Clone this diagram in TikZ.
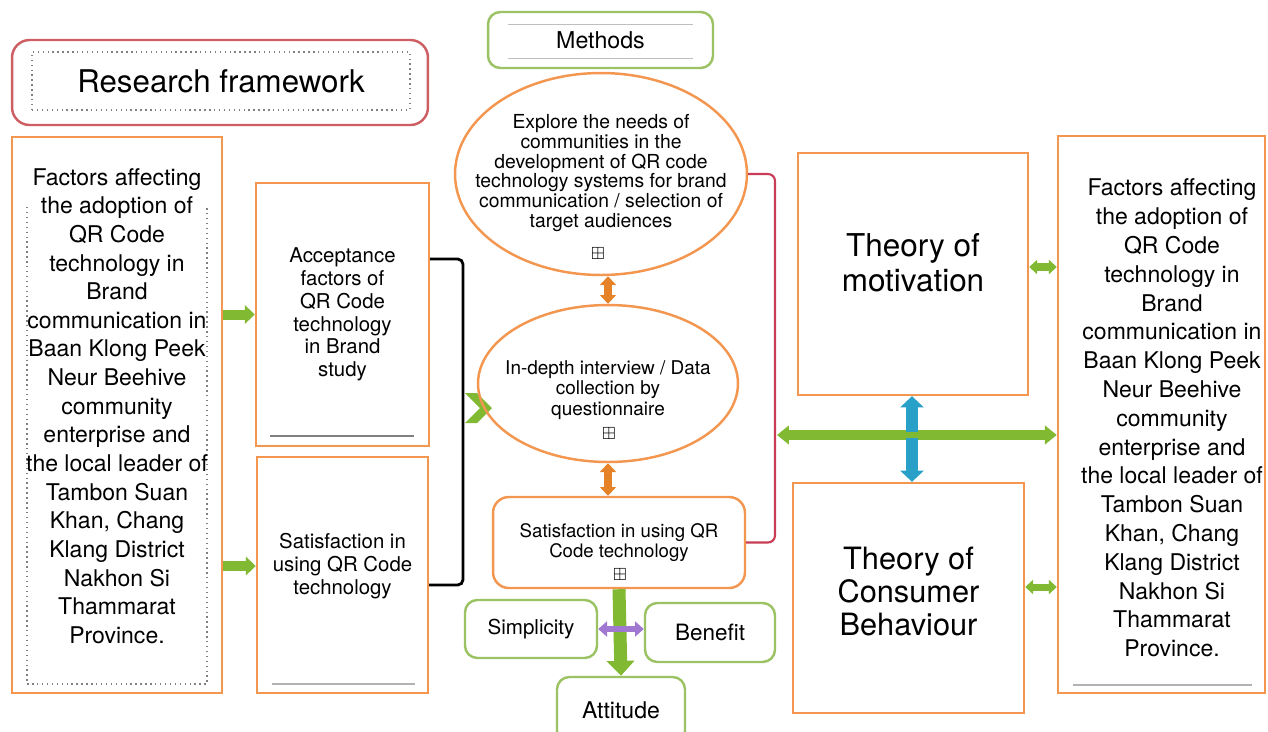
\documentclass[tikz,border=0pt]{standalone}
\usepackage{fontspec}
\setmainfont{TeX Gyre Heros}
\usepackage{amssymb}
\usetikzlibrary{arrows.meta,shapes.geometric}

\definecolor{orangeline}{RGB}{243,150,80}
\definecolor{redbox}{RGB}{205,95,100}
\definecolor{redline}{RGB}{200,60,85}
\definecolor{greenbox}{RGB}{155,195,100}
\definecolor{greenarrow}{RGB}{130,185,50}
\definecolor{orangearrow}{RGB}{230,130,40}
\definecolor{bluearrow}{RGB}{40,160,200}
\definecolor{purplearrow}{RGB}{160,120,210}

\newcommand{\fs}[2]{\fontsize{#1}{#2}\selectfont}

\begin{document}
\begin{tikzpicture}[x=0.02cm,y=-0.02cm,
    orbox/.style={draw=orangeline, line width=1.4pt, inner sep=0pt, align=center},
    grbox/.style={draw=greenbox, line width=1.4pt, rounded corners=7pt, inner sep=0pt, align=center},
    ellbox/.style={ellipse, draw=orangeline, line width=1.4pt, inner sep=0pt},
    txt/.style={inner sep=0pt, align=center},
    icon/.style={inner sep=0pt, font=\fs{10}{10}},
    garrow/.style={draw=greenarrow, line width=5.7pt, -{Triangle[width=10.5pt,length=5.7pt]}},
    gdouble/.style={draw=greenarrow, line width=4pt, {Triangle[width=8pt,length=4.5pt]}-{Triangle[width=8pt,length=4.5pt]}},
    glong/.style={draw=greenarrow, line width=5.7pt, {Triangle[width=10.5pt,length=6.8pt]}-{Triangle[width=10.5pt,length=6.8pt]}},
    gbig/.style={draw=greenarrow, line width=7.4pt, -{Triangle[width=15.4pt,length=8.5pt]}},
    oarrow/.style={draw=orangearrow, line width=4pt, {Triangle[width=9pt,length=5pt]}-{Triangle[width=9pt,length=5pt]}},
    barrow/.style={draw=bluearrow, line width=6.8pt, -{Triangle[width=13pt,length=6.3pt]}},
    parrow/.style={draw=purplearrow, line width=3.4pt, {Triangle[width=8.5pt,length=5pt]}-{Triangle[width=8.5pt,length=5pt]}},
    faintline/.style={draw=gray!60, line width=0.6pt}
  ]

  \useasboundingbox (0,0) rectangle (1268,731);
  \clip (0,0) rectangle (1268,731);

  %Title
  \node[draw=redbox, line width=1.4pt, rounded corners=10pt, minimum width=8.32cm, minimum height=1.7cm] (rf) at (220,82.5) {};
  \node[draw=gray, dotted, line width=0.8pt, minimum width=7.56cm, minimum height=1.16cm, font=\fs{17.8}{20}] (rftxt) at (221,81) {Research framework};

  %Methods
  \node[grbox, minimum width=4.5cm, minimum height=1.12cm, font=\fs{13.2}{15}] (meth) at (600.5,40) {Methods};
  \draw[draw=gray!50, line width=0.4pt] (508,24) -- (693,24);
  \draw[draw=gray!50, line width=0.4pt] (508,58) -- (693,58);

  %Left column
  \node[orbox, minimum width=4.2cm, minimum height=11.12cm] (lf) at (117,415) {};
  \draw[draw=gray, dotted, line width=0.8pt] (27,207) -- (27,684) -- (207,684) -- (207,207);
  \node[txt, font=\fs{13.1}{16.3}] (lftxt) at (117,406) {Factors affecting\\the adoption of\\QR Code\\technology in\\Brand\\communication in\\Baan Klong Peek\\Neur Beehive\\community\\enterprise and\\the local leader of\\Tambon Suan\\Khan, Chang\\Klang District\\Nakhon Si\\Thammarat\\Province.};

  %Acceptance and satisfaction
  \node[orbox, minimum width=3.46cm, minimum height=5.26cm, font=\fs{11.6}{13}] (acc) at (342.5,314.5) {Acceptance\\factors of\\QR Code\\technology\\in Brand\\study};
  \draw[draw=gray, line width=1.2pt] (270,436) -- (414,436);
  \node[orbox, minimum width=3.42cm, minimum height=4.72cm] (sat) at (342.5,575) {};
  \node[txt, font=\fs{11.6}{13.1}] (sattxt) at (342.5,566) {Satisfaction in\\using QR Code\\technology};
  \draw[faintline] (272,684) -- (415,684);

  \draw[garrow] (lf.east |- acc.west) -- (acc.west);
  \draw[garrow] (lf.east |- sattxt.west) -- (sat.west |- sattxt.west);

  %Bracket
  \coordinate (brtop) at (463,259);
  \coordinate (brbot) at (463,585);
  \draw[line width=1.6pt, rounded corners=3pt] (acc.east |- brtop) -- (brtop) -- (brbot) -- (sat.east |- brbot);
  \fill[greenarrow] (465,393) -- (477,393) -- (492,408) -- (477,423) -- (465,423) -- (480,408) -- cycle;

  %Methods column
  \node[ellbox, minimum width=5.84cm, minimum height=4.04cm] (e1) at (601,174) {};
  \node[txt, font=\fs{11}{11.3}] (e1txt) at (601,173) {Explore the needs of\\communities in the\\development of QR code\\technology systems for brand\\communication / selection of\\target audiences};
  \node[icon] (e1icon) at (598,254) {$\boxplus$};

  \node[ellbox, minimum width=5.2cm, minimum height=3.14cm] (e2) at (608,383.5) {};
  \node[txt, font=\fs{10.8}{11.7}] (e2txt) at (608,390) {In-depth interview / Data\\collection by\\questionnaire};
  \node[icon] (e2icon) at (609,434) {$\boxplus$};

  \node[orbox, rounded corners=9pt, minimum width=5.04cm, minimum height=1.82cm, font=\fs{10.6}{11.4}] (smid) at (619,542.5) {Satisfaction in using QR\\Code technology};
  \node[icon] (smidicon) at (620,575) {$\boxplus$};

  \draw[oarrow] (e2.north |- e1.south) -- (e2.north);
  \draw[oarrow] (e2.south) -- (e2.south |- smid.north);

  \node[grbox, minimum width=2.64cm, minimum height=1.16cm, font=\fs{11.7}{13}] (simp) at (531,629) {Simplicity};
  \node[grbox, minimum width=2.6cm, minimum height=1.18cm, font=\fs{12.8}{14}] (ben) at (710,632.5) {Benefit};
  \node[grbox, minimum width=2.56cm, minimum height=1.32cm, font=\fs{13.1}{14}] (att) at (621,710) {Attitude};

  \draw[gbig] (smid.south) -- (att.north);
  \draw[parrow] (simp.east) -- (simp.east -| ben.west);

  %Red connector
  \coordinate (redcol) at (775,300);
  \draw[draw=redline, line width=1.2pt, rounded corners=4pt] (e1.east) -| (redcol) |- (smid.east);

  %Theories
  \node[orbox, minimum width=4.6cm, minimum height=4.84cm] (mot) at (913,274) {};
  \node[txt, font=\fs{17.9}{19.9}] (mottxt) at (913,262.5) {Theory of\\motivation};
  \node[orbox, minimum width=4.62cm, minimum height=4.6cm] (cons) at (908.5,598) {};
  \node[txt, font=\fs{17.5}{19}] (constxt) at (908.5,591.5) {Theory of\\Consumer\\Behaviour};

  %Right column
  \node[orbox, minimum width=4.14cm, minimum height=11.14cm] (rt) at (1161.5,414.5) {};
  \node[txt, font=\fs{13.1}{16.4}] (rttxt) at (1172,418) {Factors affecting\\the adoption of\\QR Code\\technology in\\Brand\\communication in\\Baan Klong Peek\\Neur Beehive\\community\\enterprise and\\the local leader of\\Tambon Suan\\Khan, Chang\\Klang District\\Nakhon Si\\Thammarat\\Province.};
  \draw[faintline] (1073,685) -- (1252,685);

  %Links
  \coordinate (hubL) at (777,435);
  \coordinate (hubU) at (912,432);
  \coordinate (hubD) at (912,438);
  \draw[glong] (hubL) -- (rt.west |- hubL);
  \draw[barrow] (hubU) -- (hubU |- mot.south);
  \draw[barrow] (hubD) -- (hubD |- cons.north);
  \draw[gdouble] ([yshift=7pt*0.569]mot.east) -- ([yshift=7pt*0.569]mot.east -| rt.west);
  \draw[gdouble] ([yshift=11pt*0.569]cons.east) -- ([yshift=11pt*0.569]cons.east -| rt.west);

\end{tikzpicture}
\end{document}
